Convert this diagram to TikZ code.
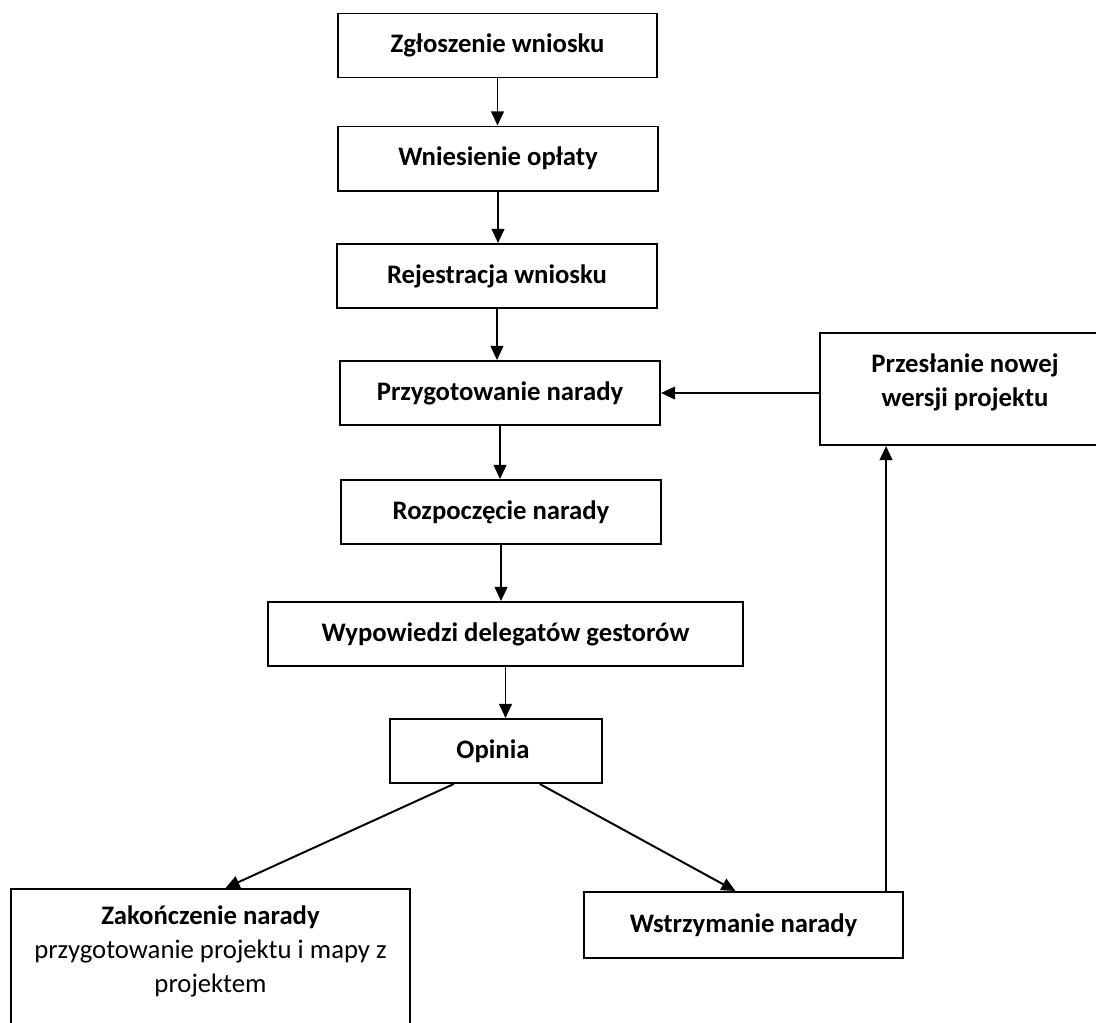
\documentclass[tikz,border=0pt]{standalone}
\usepackage{fontspec}
\setmainfont{Carlito}
\usetikzlibrary{arrows.meta,calc}

\tikzset{
  box/.style={draw, line width=1.4pt, minimum height=1.6cm, align=center,
    font=\fontsize{19}{24.5}\selectfont\bfseries},
  arr/.style={line width=1.4pt, -{Triangle[length=10pt,width=9pt]}},
}

\begin{document}
\begin{tikzpicture}[x=0.025cm, y=-0.025cm]
  \useasboundingbox (0, 0) rectangle (1096, 1022);

  % main column
  \foreach \name / \xcord / \ycord / \bw / \txt in {
    zgl/497.5/45.5/7.975cm/Zgłoszenie wniosku,
    opl/498/158.5/8cm/Wniesienie opłaty,
    rej/497/276/8cm/Rejestracja wniosku,
    prz/500/393/8cm/Przygotowanie narady,
    roz/501/512/8cm/Rozpoczęcie narady,
    wyp/505.5/634/11.875cm/Wypowiedzi delegatów gestorów,
    opi/496/751/5.3cm/Opinia
  }{
    \node[box, minimum width=\bw] (\name) at (\xcord, \ycord) {\txt};
  }

  \foreach \a / \b in {zgl/opl, opl/rej, rej/prz, prz/roz, roz/wyp, wyp/opi}{
    \draw[arr] (\a.south) -- (\a.south |- \b.north);
  }

  % side boxes
  \node[box, minimum width=7.975cm, minimum height=1.65cm] (wst) at (743.5, 925) {Wstrzymanie narady};
  \node[box, minimum width=7.25cm, minimum height=2.8cm, text depth=13pt] (nowa) at (965, 389)
    {Przesłanie nowej\\wersji projektu};
  \node[box, anchor=north, minimum width=9.975cm, inner ysep=12pt,
    font=\fontsize{19}{24}\selectfont] (zak) at (210.5, 888)
    {\textbf{Zakończenie narady}\\przygotowanie projektu i mapy z\\projektem\\[3cm]};

  % branches and loop back
  \draw[arr] (opi.218) -- ($(zak.north)+(15,0)$);
  \draw[arr] (opi.323) -- ($(wst.north)+(-8,0)$);
  \draw[arr] ($(wst.north east)+(-18,0)$) coordinate (up) -- (up |- nowa.south);
  \draw[arr] (prz.east -| nowa.west) -- (prz.east);
\end{tikzpicture}
\end{document}
